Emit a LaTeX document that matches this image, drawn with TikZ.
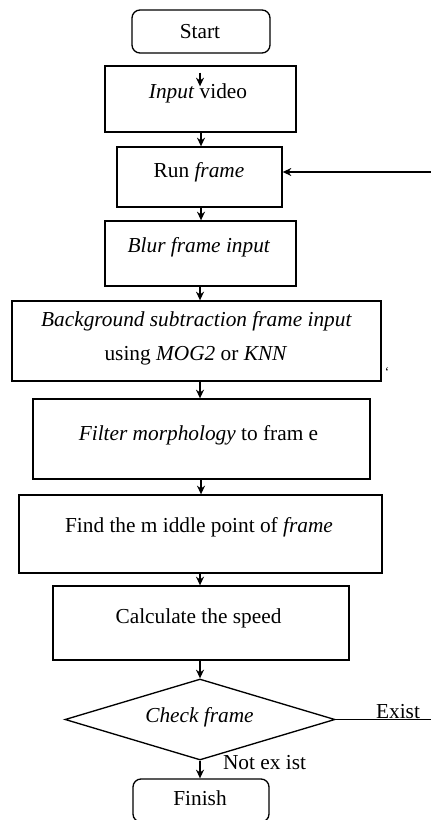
\documentclass[tikz,border=0pt]{standalone}
\usepackage{fontspec}
\setmainfont{Liberation Serif}
\usetikzlibrary{shapes.geometric,arrows.meta}
\begin{document}
\begin{tikzpicture}[x=0.75pt,y=-0.75pt,
  every node/.style={font=\fontsize{16}{19}\selectfont},
  box/.style={draw,line width=1pt,rectangle,inner sep=0pt},
  rbox/.style={draw,line width=1pt,rectangle,rounded corners=6pt,inner sep=0pt},
  dec/.style={draw,line width=1pt,diamond,inner sep=0pt},
  lbl/.style={inner sep=0pt,align=center},
  arr/.style={line width=1pt,-{Stealth[length=6.5pt,width=6pt]}},
  ln/.style={line width=1pt}]
\useasboundingbox (0,0) rectangle (431,820);
% boxes
\node[rbox,minimum width=138*0.75pt,minimum height=43*0.75pt] (start) at (201,31.5) {};
\node[box,minimum width=191*0.75pt,minimum height=66*0.75pt] (input) at (200.5,99) {};
\node[box,minimum width=165*0.75pt,minimum height=60*0.75pt] (run) at (199.5,177) {};
\node[box,minimum width=191*0.75pt,minimum height=65*0.75pt] (blur) at (200.5,253.5) {};
\node[box,minimum width=369*0.75pt,minimum height=80*0.75pt] (bg) at (196.5,341) {};
\node[box,minimum width=337*0.75pt,minimum height=80*0.75pt] (filter) at (201.5,439) {};
\node[box,minimum width=363*0.75pt,minimum height=78*0.75pt] (find) at (200.5,534) {};
\node[box,minimum width=296*0.75pt,minimum height=74*0.75pt] (calc) at (201,623) {};
\node[dec,minimum width=270*0.75pt,minimum height=81*0.75pt,aspect=3.33] (check) at (200,719.5) {};
\node[rbox,minimum width=136*0.75pt,minimum height=43*0.75pt] (finish) at (201,800.5) {};
% labels
\node[lbl] (tstart) at (200,32) {Start};
\node[lbl] (tinput) at (198,93) {\textit{Input} video};
\node[lbl] (trun) at (199,172) {Run \textit{frame}};
\node[lbl] (tblur) at (199,247) {\textit{Blur frame input}};
\node[lbl] (tbg1) at (196.5,321) {\textit{Background subtraction frame input}};
\node[lbl] (tbg2) at (196,356) {using \textit{MOG2} or \textit{KNN}};
\node[lbl] (tfilter) at (198.5,435) {\textit{Filter morphology} to fram e};
\node[lbl] (tfind) at (199,527) {Find the m iddle point of \textit{frame}};
\node[lbl] (tcalc) at (198.5,618) {Calculate the speed};
\node[lbl] (tcheck) at (199.5,717) {\textit{Check frame}};
\node[lbl] (tfinish) at (200,798) {Finish};
\node[lbl] (texist) at (398,712) {Exist};
\node[lbl] (tnot) at (264.5,763) {Not ex ist};
\node[lbl,font=\normalsize] (tick) at (387,372) {`};
% edge coordinates
\coordinate (eright) at (431,172);
\coordinate (xright) at (431,719.5);
% connectors
\draw[arr,shorten <=19*0.75pt,shorten >=-21*0.75pt] (start.south -| 200,0) -- (input.north -| 200,0);
\draw[arr] (input.south -| 201,0) -- (run.north -| 201,0);
\draw[arr] (run.south -| 201,0) -- (blur.north -| 201,0);
\draw[arr] (blur.south -| 200,0) -- (bg.north -| 200,0);
\draw[arr] (bg.south -| 200,0) -- (filter.north -| 200,0);
\draw[arr] (filter.south -| 201,0) -- (find.north -| 201,0);
\draw[arr] (find.south -| 200,0) -- (calc.north -| 200,0);
\draw[arr] (calc.south -| 200,0) -- (check.north);
\draw[arr] (check.south) -- (finish.north -| 200,0);
\draw[arr] (eright) -- (run.east |- eright);
\draw[ln] (check.east) -- (xright);
\end{tikzpicture}
\end{document}
